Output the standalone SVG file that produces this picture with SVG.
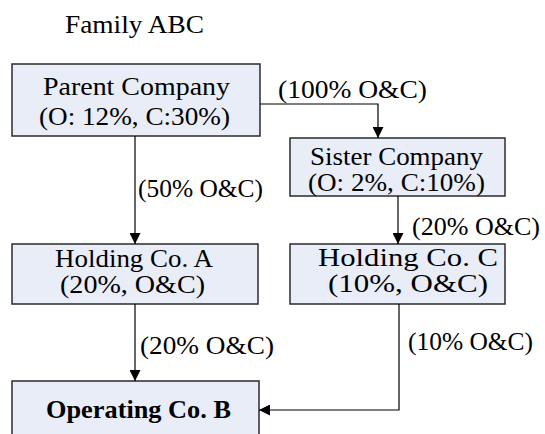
<svg xmlns="http://www.w3.org/2000/svg" width="545" height="434" viewBox="0 0 545 434">
<defs>
<marker id="ah" markerWidth="11" markerHeight="11" refX="11" refY="5.5" orient="auto" markerUnits="userSpaceOnUse">
<path d="M0,0 L11,5.5 L0,11 Z" fill="#000"/>
</marker>
<style>
.box{fill:#e8edf7;stroke:#2b2b2b;stroke-width:1.5}
.t{font-family:"Liberation Serif","Times New Roman",serif;font-size:24.5px;fill:#000;text-anchor:middle}
.b{font-weight:bold}
.c{fill:none;stroke:#000;stroke-width:1.2}
</style>
</defs>
<rect width="545" height="434" fill="#fff"/>
<text class="t" x="134.5" y="33" textLength="139" lengthAdjust="spacingAndGlyphs">Family ABC</text>
<g id="parent">
<rect class="box" x="12" y="64" width="248" height="72"/>
<text class="t" x="136.5" y="95" textLength="187" lengthAdjust="spacingAndGlyphs">Parent Company</text>
<text class="t" x="134.5" y="125" textLength="191" lengthAdjust="spacingAndGlyphs">(O: 12%, C:30%)</text>
</g>
<g id="sister">
<rect class="box" x="290" y="138" width="215" height="58"/>
<text class="t" x="396.5" y="165" textLength="173" lengthAdjust="spacingAndGlyphs">Sister Company</text>
<text class="t" x="396.5" y="191" textLength="177" lengthAdjust="spacingAndGlyphs">(O: 2%, C:10%)</text>
</g>
<g id="holdingA">
<rect class="box" x="12" y="244" width="246" height="60"/>
<text class="t" x="134" y="267" textLength="158" lengthAdjust="spacingAndGlyphs">Holding Co. A</text>
<text class="t" x="132.5" y="293" textLength="145" lengthAdjust="spacingAndGlyphs">(20%, O&amp;C)</text>
</g>
<g id="holdingC">
<rect class="box" x="290" y="244" width="215" height="60"/>
<text class="t" x="408" y="266" textLength="180" lengthAdjust="spacingAndGlyphs">Holding Co. C</text>
<text class="t" x="408" y="292" textLength="160" lengthAdjust="spacingAndGlyphs">(10%, O&amp;C)</text>
</g>
<g id="operatingB">
<rect class="box" x="12" y="381" width="247" height="60"/>
<text class="t b" x="138.5" y="418" textLength="185" lengthAdjust="spacingAndGlyphs">Operating Co. B</text>
</g>
<g id="connectors">
<path class="c" d="M260,104 H378 V138" marker-end="url(#ah)"/>
<path class="c" d="M135,136 V244" marker-end="url(#ah)"/>
<path class="c" d="M398,196 V244" marker-end="url(#ah)"/>
<path class="c" d="M135,304 V381" marker-end="url(#ah)"/>
<path class="c" d="M399,304 V410 H259" marker-end="url(#ah)"/>
<text class="t" x="352.5" y="98" textLength="149" lengthAdjust="spacingAndGlyphs">(100% O&amp;C)</text>
<text class="t" x="200.5" y="197" textLength="125" lengthAdjust="spacingAndGlyphs">(50% O&amp;C)</text>
<text class="t" x="476" y="235" textLength="128" lengthAdjust="spacingAndGlyphs">(20% O&amp;C)</text>
<text class="t" x="207" y="354" textLength="134" lengthAdjust="spacingAndGlyphs">(20% O&amp;C)</text>
<text class="t" x="470.5" y="350" textLength="125" lengthAdjust="spacingAndGlyphs">(10% O&amp;C)</text>
</g>
</svg>
